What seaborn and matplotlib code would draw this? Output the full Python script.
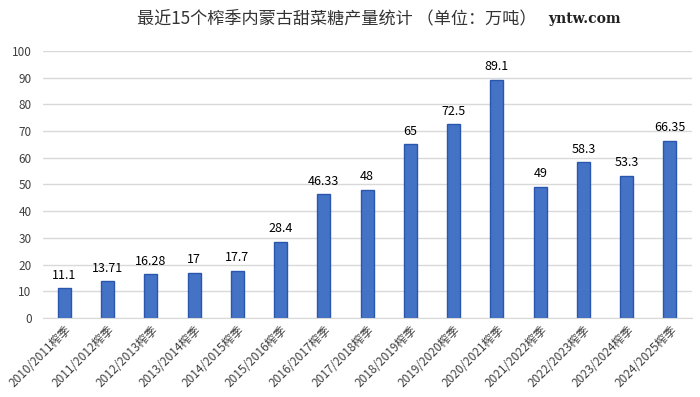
import matplotlib
matplotlib.use("Agg")
import matplotlib.pyplot as plt
import seaborn as sns
import pandas as pd

seasons = ["2010/2011榨季", "2011/2012榨季", "2012/2013榨季", "2013/2014榨季",
           "2014/2015榨季", "2015/2016榨季", "2016/2017榨季", "2017/2018榨季",
           "2018/2019榨季", "2019/2020榨季", "2020/2021榨季", "2021/2022榨季",
           "2022/2023榨季", "2023/2024榨季", "2024/2025榨季"]
output = [11.1, 13.71, 16.28, 17, 17.7, 28.4, 46.33, 48, 65, 72.5, 89.1, 49, 58.3, 53.3, 66.35]
labels = ["11.1", "13.71", "16.28", "17", "17.7", "28.4", "46.33", "48", "65", "72.5",
          "89.1", "49", "58.3", "53.3", "66.35"]

sns.set_style("white")
plt.rcParams['font.family'] = ['Noto Sans CJK SC', 'DejaVu Sans']

df = pd.DataFrame({"season": seasons, "output": output})

fig = plt.figure(figsize=(7, 3.97), dpi=100)
ax = fig.add_axes([0.061, 0.199, 0.927, 0.673])

sns.barplot(data=df, x="season", y="output", color="#4472C4", width=0.3,
            edgecolor="#2A56B0", linewidth=1.0, saturation=1, ax=ax)

ax.set_ylim(0, 100)
ax.set_yticks(range(0, 101, 10))
ax.yaxis.grid(True, color="#D9D9D9", linewidth=1)
ax.set_axisbelow(True)
for s in ["top", "right", "left"]:
    ax.spines[s].set_visible(False)
ax.spines["bottom"].set_color("#D9D9D9")
ax.set_xlabel("")
ax.set_ylabel("")
ax.tick_params(axis="both", length=0, labelsize=8.5, colors="#404040")
ax.tick_params(axis="y", pad=8)
plt.setp(ax.get_xticklabels(), rotation=45, ha="right", rotation_mode="anchor")

for i, (v, t) in enumerate(zip(output, labels)):
    ax.text(i, v + 2.5, t, ha="center", va="bottom", fontsize=9, color="#000000")

fig.text(0.196, 0.955, "最近15个榨季内蒙古甜菜糖产量统计 （单位：万吨）", fontsize=12.3,
         color="#333333", ha="left", va="center")
fig.text(0.783, 0.952, "yntw.com", fontsize=10, fontweight="bold", color="#222222",
         family="DejaVu Serif", ha="left", va="center")

fig.savefig("out.png", dpi=100)
